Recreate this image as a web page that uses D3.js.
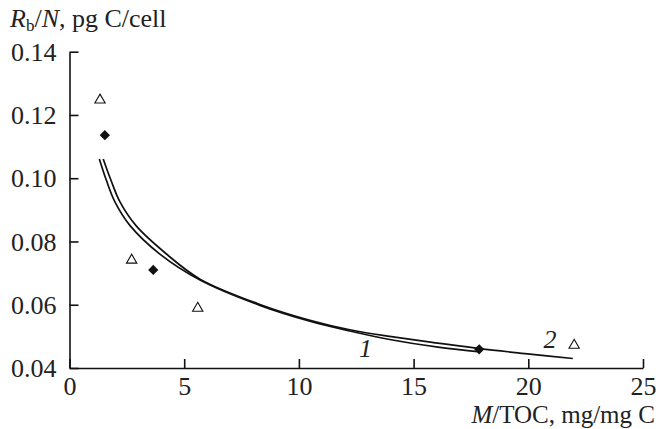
<!DOCTYPE html>
<html>
<head>
<meta charset="utf-8">
<script src="https://cdn.jsdelivr.net/npm/d3@7"></script>
<style>
  html, body { margin: 0; padding: 0; background: #fff; }
  svg { display: block; }
  svg text { font-family: "Times New Roman", Times, "Liberation Serif", Tinos, serif; fill: #222; }
</style>
</head>
<body>
<svg id="chart" width="658" height="429"></svg>
<script>
// ---- data ----
const xTicks = [0, 5, 10, 15, 20, 25];
const yTicks = [0.04, 0.06, 0.08, 0.10, 0.12, 0.14];
const yTickLabels = ["0.04", "0.06", "0.08", "0.10", "0.12", "0.14"];

// open triangles
const triangles = [[1.33, 0.1247], [2.71, 0.0741], [5.59, 0.0589], [22.0, 0.0472]];
// filled diamonds
const diamonds = [[1.54, 0.1136], [3.65, 0.0710], [17.86, 0.0459]];

// curve 1
const curve1 = [[1.30, 0.1061], [1.60, 0.0995], [1.98, 0.0925], [2.64, 0.0850], [3.94, 0.0760],
                [5.69, 0.0678], [8.30, 0.0598], [10.48, 0.0548], [12.22, 0.0517], [13.96, 0.0490],
                [16.14, 0.0465], [17.9, 0.0451]];
// curve 2
const curve2 = [[1.47, 0.1061], [1.80, 0.0995], [2.20, 0.0925], [2.90, 0.0850], [4.20, 0.0762],
                [5.69, 0.0681], [8.30, 0.0601], [10.48, 0.0551], [12.22, 0.0521], [13.96, 0.0500],
                [16.14, 0.0478], [17.9, 0.0461], [20.07, 0.0444], [21.94, 0.0430]];

const curveLabels = [{t: "1", x: 12.9, y: 0.0436}, {t: "2", x: 20.95, y: 0.0463}];

// ---- drawing ----
const svg = d3.select("#chart");
const x = d3.scaleLinear().domain([0, 25]).range([69.5, 643]);
const y = d3.scaleLinear().domain([0.04, 0.14]).range([368, 51.7]);

const ink = "#111";
const serif = '"Times New Roman", Times, "Liberation Serif", Tinos, serif';
const fs = 26;

// axes with inward ticks
const xAxis = d3.axisBottom(x).tickValues(xTicks).tickSizeInner(-9).tickSizeOuter(0).tickPadding(19);
const yAxis = d3.axisLeft(y).tickValues(yTicks).tickSizeInner(-9).tickSizeOuter(0).tickPadding(24)
  .tickFormat((d, i) => yTickLabels[i]);

const gx = svg.append("g").attr("transform", `translate(0,${y(0.04)})`).call(xAxis);
const gy = svg.append("g").attr("transform", `translate(${x(0)},0)`).call(yAxis);

[gx, gy].forEach(g => {
  g.attr("font-family", serif);
  g.select(".domain").attr("stroke", ink).attr("stroke-width", 1.6);
  g.selectAll(".tick line").attr("stroke", ink).attr("stroke-width", 1.6);
  g.selectAll(".tick text").attr("font-size", fs).attr("fill", "#222");
});
gx.selectAll(".tick text").attr("dy", "0.3em");
gy.selectAll(".tick text").attr("x", -13).attr("dy", "0.33em");

// curves
const line = d3.line().x(d => x(d[0])).y(d => y(d[1])).curve(d3.curveCatmullRom.alpha(0.5));
[curve1, curve2].forEach(c => {
  svg.append("path").datum(c).attr("d", line)
    .attr("fill", "none").attr("stroke", ink).attr("stroke-width", 1.7);
});

// curve labels
svg.selectAll(".clab").data(curveLabels).enter().append("text")
  .attr("x", d => x(d.x)).attr("y", d => y(d.y))
  .attr("text-anchor", "middle").attr("font-size", fs).attr("font-style", "italic")
  .text(d => d.t);

// triangles
const tri = d3.symbol().type(d3.symbolTriangle).size(46);
svg.selectAll(".tri").data(triangles).enter().append("path")
  .attr("d", tri).attr("transform", d => `translate(${x(d[0])},${y(d[1])})`)
  .attr("fill", "#fff").attr("stroke", ink).attr("stroke-width", 1.1);

// diamonds (rotated squares)
const dia = d3.symbol().type(d3.symbolSquare).size(52);
svg.selectAll(".dia").data(diamonds).enter().append("path")
  .attr("d", dia).attr("transform", d => `translate(${x(d[0])},${y(d[1])}) rotate(45)`)
  .attr("fill", ink);

// axis titles
const yt = svg.append("text").attr("x", 10).attr("y", 27).attr("font-size", fs);
yt.append("tspan").attr("font-style", "italic").text("R");
yt.append("tspan").attr("font-size", 17).attr("dy", 4).text("b");
yt.append("tspan").attr("dy", -4).text("/");
yt.append("tspan").attr("font-style", "italic").text("N");
yt.append("tspan").text(", pg C/cell");

const xt = svg.append("text").attr("x", 655).attr("y", 423).attr("font-size", 25).attr("text-anchor", "end");
xt.append("tspan").attr("font-style", "italic").text("M");
xt.append("tspan").text("/TOC, mg/mg C");
</script>
</body>
</html>
